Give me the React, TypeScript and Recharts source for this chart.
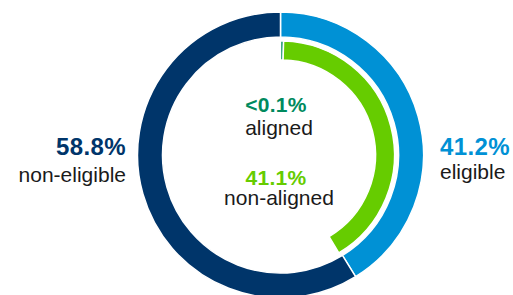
import React from 'react';
import { PieChart, Pie, Cell } from 'recharts';

const outerNames = ['eligible', 'non-eligible'];
const outerValues = [41.2, 58.8];
const outerColors = ['#0091d5', '#00356a'];

const innerNames = ['aligned', 'non-aligned', 'rest'];
const innerValues = [0.1, 41.1, 58.8];
const innerColors = ['#008a5e', '#66cc00', 'transparent'];

const outerData = outerNames.map((n, i) => ({ name: n, value: outerValues[i] }));
const innerData = innerNames.map((n, i) => ({ name: n, value: innerValues[i] }));

const FONT = '"Liberation Sans", Arial, Helvetica, sans-serif';

export default function App() {
  return (
    <div style={{ position: 'absolute', left: 0, top: 0, width: 513, height: 295, background: '#fff' }}>
      <PieChart
        width={513}
        height={295}
        margin={{ top: 0, right: 0, bottom: 0, left: 0 }}
        style={{ position: 'absolute', left: 0, top: 0 }}
      >
        <Pie
          data={outerData}
          dataKey="value"
          cx={280.5}
          cy={155}
          innerRadius={118}
          outerRadius={143}
          startAngle={90}
          endAngle={-270}
          stroke="#ffffff"
          strokeWidth={1.5}
          isAnimationActive={false}
        >
          {outerData.map((d, i) => (
            <Cell key={d.name} fill={outerColors[i]} />
          ))}
        </Pie>
        <Pie
          data={innerData}
          dataKey="value"
          cx={280.5}
          cy={155}
          innerRadius={95}
          outerRadius={114}
          startAngle={90}
          endAngle={-270}
          minAngle={1.2}
          stroke="#ffffff"
          strokeWidth={1.5}
          isAnimationActive={false}
        >
          {innerData.map((d, i) => (
            <Cell key={d.name} fill={innerColors[i]} stroke={i === 2 ? 'none' : '#ffffff'} />
          ))}
        </Pie>
      </PieChart>
      <svg width={513} height={295} style={{ position: 'absolute', left: 0, top: 0, pointerEvents: 'none' }} fontFamily={FONT}>
        <text x={126} y={155} textAnchor="end" fontSize={24} fontWeight="bold" fill="#00356a" letterSpacing={0.4}>58.8%</text>
        <text x={126} y={182} textAnchor="end" fontSize={21} fill="#1a1a1a">non-eligible</text>
        <text x={440} y={155} textAnchor="start" fontSize={24} fontWeight="bold" fill="#0091d5" letterSpacing={0.4}>41.2%</text>
        <text x={440} y={179} textAnchor="start" fontSize={21} fill="#1a1a1a">eligible</text>
        <text x={276} y={112} textAnchor="middle" fontSize={21} fontWeight="bold" fill="#008a5e" letterSpacing={0.3}>&lt;0.1%</text>
        <text x={279} y={135} textAnchor="middle" fontSize={21} fill="#1a1a1a">aligned</text>
        <text x={276} y={185} textAnchor="middle" fontSize={21} fontWeight="bold" fill="#66cc00" letterSpacing={0.3}>41.1%</text>
        <text x={279} y={205} textAnchor="middle" fontSize={21} fill="#1a1a1a">non-aligned</text>
      </svg>
    </div>
  );
}
